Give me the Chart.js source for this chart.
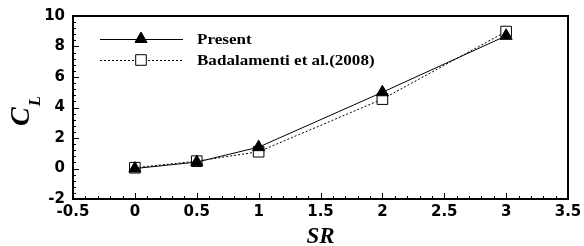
<!DOCTYPE html>
<html>
<head>
<meta charset="utf-8">
<script src="https://cdn.jsdelivr.net/npm/chart.js@4.4.1/dist/chart.umd.min.js"></script>
<style>
html, body { margin: 0; padding: 0; background: #fff; }
#wrap { width: 584px; height: 246px; }
</style>
</head>
<body>
<div id="wrap"><canvas id="clChart"></canvas></div>
<script>
const srValues = [0, 0.5, 1, 2, 3];
const presentCl = [0, 0.42, 1.4, 5.0, 8.7];
const badalamentiCl = [0.05, 0.48, 1.1, 4.55, 8.98];
const seriesNames = ['Present', 'Badalamenti et al.(2008)'];
const xTicks = [-0.5, 0, 0.5, 1, 1.5, 2, 2.5, 3, 3.5];
const yTicks = [-2, 0, 2, 4, 6, 8, 10];

const tickFont = { family: 'DejaVu Sans', weight: 'bold', size: 15 };

// frame, inward ticks, legend and the C_L title
const decorations = {
    id: 'decorations',
    afterDraw(chart) {
        const ctx = chart.ctx;
        const a = chart.chartArea;
        const xs = chart.scales.x, ys = chart.scales.y;
        ctx.save();
        ctx.strokeStyle = '#000';
        ctx.lineWidth = 2;
        ctx.strokeRect(a.left, a.top, a.right - a.left, a.bottom - a.top);

        ctx.lineWidth = 1;
        ctx.beginPath();
        for (let i = 0; i <= 40; i++) {
            const v = -0.5 + i * 0.1;
            const px = Math.round(xs.getPixelForValue(v)) + 0.5;
            const len = i % 5 === 0 ? 6 : 3;
            ctx.moveTo(px, a.bottom);
            ctx.lineTo(px, a.bottom - len);
        }
        for (let i = 0; i <= 30; i++) {
            const v = -2 + i * 0.4;
            const py = Math.round(ys.getPixelForValue(v)) + 0.5;
            const len = i % 5 === 0 ? 6 : 3;
            ctx.moveTo(a.left, py);
            ctx.lineTo(a.left + len, py);
        }
        ctx.stroke();

        // legend
        const rows = [39, 60];
        chart.data.datasets.forEach((ds, i) => {
            const y = rows[i];
            ctx.strokeStyle = ds.borderColor;
            ctx.lineWidth = ds.borderWidth;
            ctx.setLineDash(ds.borderDash || []);
            ctx.beginPath();
            ctx.moveTo(100, y + 0.5);
            ctx.lineTo(183, y + 0.5);
            ctx.stroke();
            ctx.setLineDash([]);
            ctx.fillStyle = ds.pointBackgroundColor;
            ctx.strokeStyle = ds.pointBorderColor;
            ctx.lineWidth = 1;
            Chart.helpers.drawPoint(ctx, {
                pointStyle: ds.pointStyle, radius: ds.pointRadius,
                borderWidth: 1, rotation: 0
            }, 141, y);
            ctx.save();
            ctx.translate(197, y);
            ctx.scale(1.1, 1);
            ctx.fillStyle = '#000';
            ctx.font = 'bold 15.5px "Liberation Serif"';
            ctx.textBaseline = 'middle';
            ctx.fillText(ds.label, 0, 1);
            ctx.restore();
        });

        // y axis title C_L, rotated
        ctx.save();
        ctx.translate(29, 126);
        ctx.rotate(-Math.PI / 2);
        ctx.fillStyle = '#000';
        ctx.textBaseline = 'alphabetic';
        ctx.font = 'italic bold 28px "Liberation Serif"';
        ctx.fillText('C', 0, 0);
        const cw = ctx.measureText('C').width;
        ctx.font = 'italic bold 17px "Liberation Serif"';
        ctx.fillText('L', cw + 1, 11);
        ctx.restore();
        ctx.restore();
    }
};

new Chart(document.getElementById('clChart'), {
    type: 'line',
    data: {
        datasets: [{
            label: seriesNames[0],
            data: srValues.map((x, i) => ({ x: x, y: presentCl[i] })),
            borderColor: '#000',
            borderWidth: 1,
            pointStyle: 'triangle',
            pointRadius: 7,
            pointBackgroundColor: '#000',
            pointBorderColor: '#000',
            pointBorderWidth: 1
        }, {
            label: seriesNames[1],
            data: srValues.map((x, i) => ({ x: x, y: badalamentiCl[i] })),
            borderColor: '#000',
            borderWidth: 1,
            borderDash: [2, 2],
            pointStyle: 'rect',
            pointRadius: 7.5,
            pointBackgroundColor: '#fff',
            pointBorderColor: '#000',
            pointBorderWidth: 1
        }]
    },
    options: {
        responsive: true,
        maintainAspectRatio: false,
        animation: false,
        layout: { padding: { top: 16, right: 16, left: 0, bottom: 0 } },
        plugins: { legend: { display: false }, tooltip: { enabled: false } },
        scales: {
            x: {
                type: 'linear',
                min: -0.5,
                max: 3.5,
                grid: { display: false, drawTicks: false },
                border: { display: false },
                afterBuildTicks: s => { s.ticks = xTicks.map(v => ({ value: v })); },
                afterFit: s => { s.height = 47; s.paddingLeft = 0; s.paddingRight = 0; },
                ticks: {
                    color: '#000',
                    font: tickFont,
                    padding: 4,
                    maxRotation: 0,
                    autoSkip: false,
                    callback: v => String(v)
                },
                title: {
                    display: true,
                    text: 'SR',
                    color: '#000',
                    font: { family: 'Liberation Serif', style: 'italic', weight: 'bold', size: 23, lineHeight: 0.8 },
                    padding: { top: 0, bottom: 0 }
                }
            },
            y: {
                type: 'linear',
                min: -2,
                max: 10,
                grid: { display: false, drawTicks: false },
                border: { display: false },
                afterBuildTicks: s => { s.ticks = yTicks.map(v => ({ value: v })); },
                afterFit: s => { s.width = 73; s.paddingTop = 0; s.paddingBottom = 0; },
                ticks: {
                    color: '#000',
                    font: tickFont,
                    padding: 8,
                    autoSkip: false,
                    callback: v => String(v)
                }
            }
        }
    },
    plugins: [decorations]
});
</script>
</body>
</html>
